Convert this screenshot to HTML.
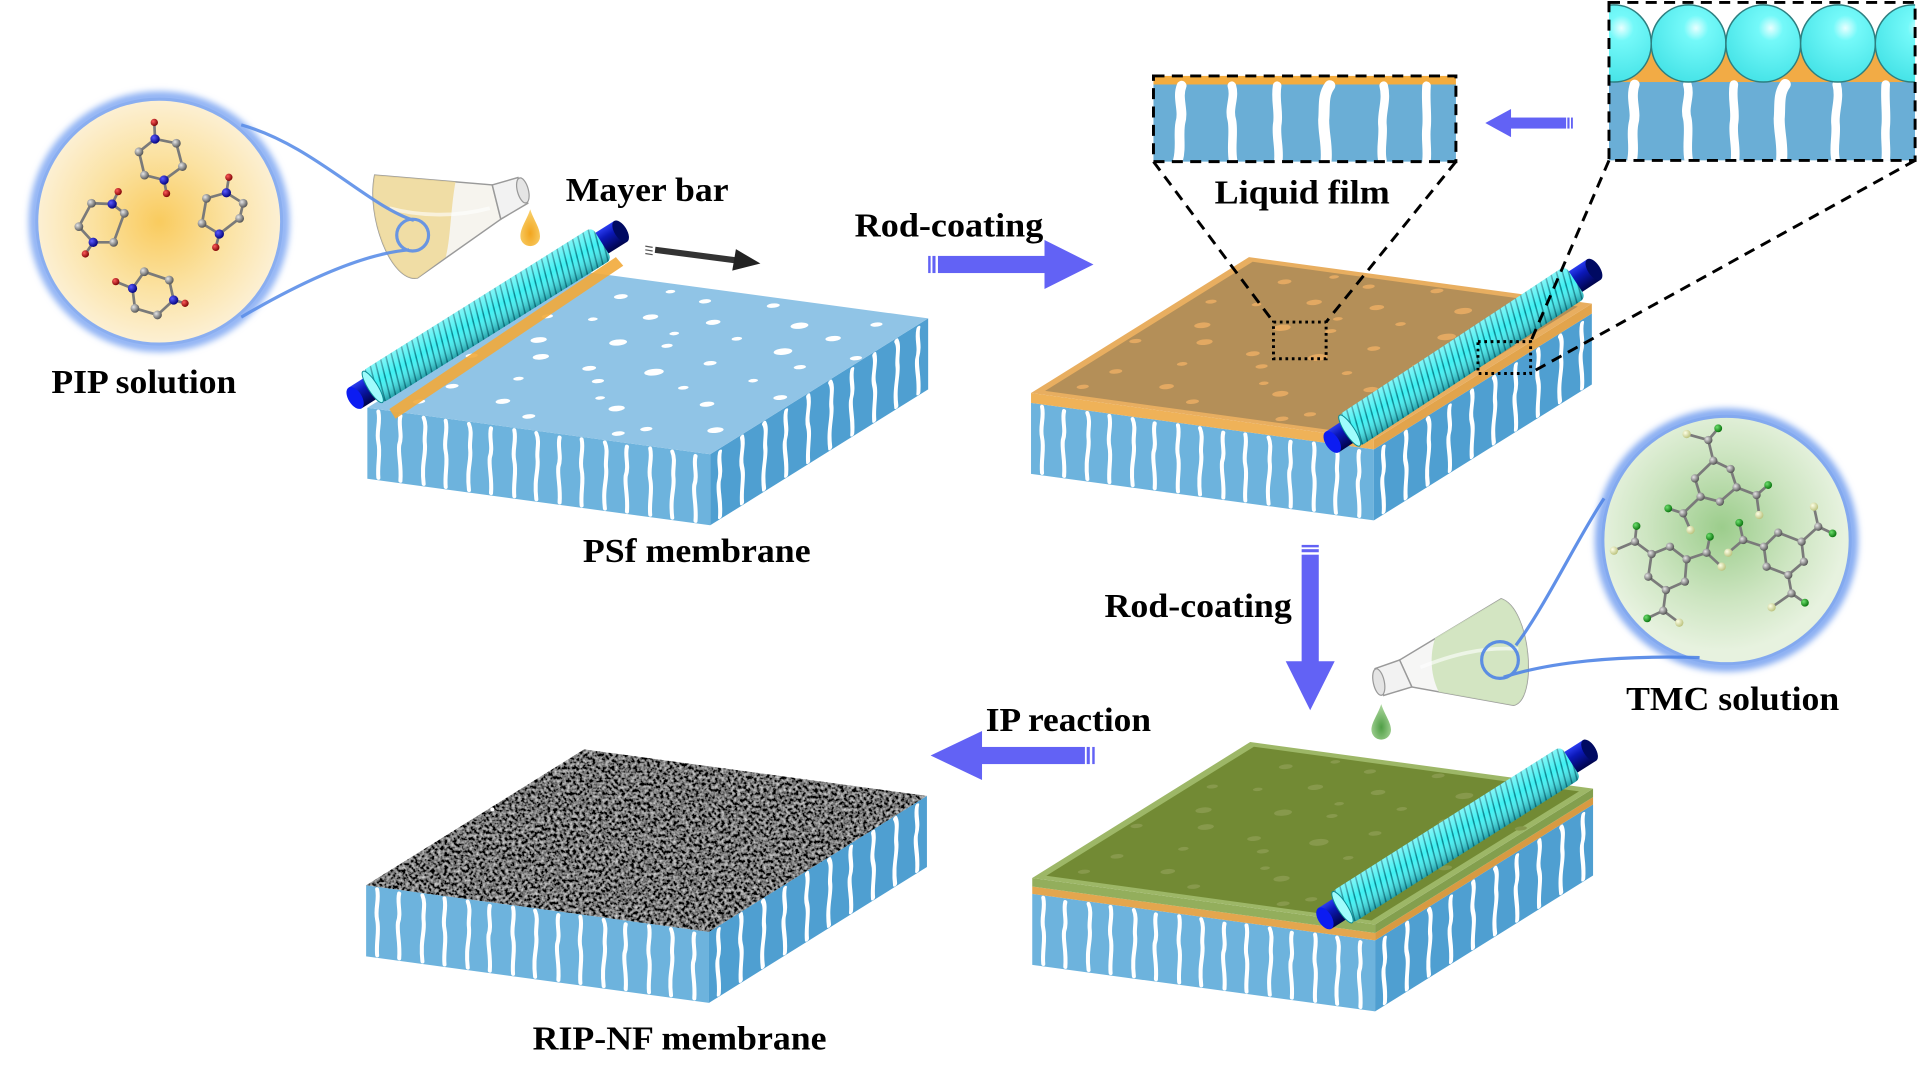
<!DOCTYPE html>
<html><head><meta charset="utf-8"><style>
html,body{margin:0;padding:0;background:#fff;}
svg{display:block;}
.t{font-family:"Liberation Serif","Times New Roman",serif;font-weight:bold;font-size:28px;fill:#000;}
.c{fill:url(#gC);}
.n{fill:url(#gN);}
.o{fill:url(#gO);}
.cl{fill:url(#gCl);}
.oy{fill:url(#gOy);}
.bd{stroke:#7a7a7a;stroke-width:2.2;fill:none;stroke-linejoin:round;}
.dash{stroke:#000;stroke-width:2.4;fill:none;stroke-dasharray:9 6;}
.dot{stroke:#000;stroke-width:2.4;fill:none;stroke-dasharray:2.2 3;}
</style></head><body>
<svg xmlns="http://www.w3.org/2000/svg" xmlns:xlink="http://www.w3.org/1999/xlink" width="1920" height="1080" viewBox="0 0 1568 882" preserveAspectRatio="none">
<defs>
<radialGradient id="pipG" cx="0.5" cy="0.5" r="0.5"><stop offset="0" stop-color="#f9cb5e"/><stop offset="0.55" stop-color="#fbe2a2"/><stop offset="1" stop-color="#fcf0d4"/></radialGradient>
<radialGradient id="tmcG" cx="0.48" cy="0.45" r="0.5"><stop offset="0" stop-color="#9ccd8c"/><stop offset="0.6" stop-color="#cde5c1"/><stop offset="1" stop-color="#e7f2df"/></radialGradient>
<radialGradient id="gC" cx="0.35" cy="0.35" r="0.7"><stop offset="0" stop-color="#e6e6e6"/><stop offset="1" stop-color="#4e4e4e"/></radialGradient>
<radialGradient id="gN" cx="0.35" cy="0.35" r="0.7"><stop offset="0" stop-color="#5a5aff"/><stop offset="1" stop-color="#00007a"/></radialGradient>
<radialGradient id="gO" cx="0.35" cy="0.35" r="0.7"><stop offset="0" stop-color="#ff5a5a"/><stop offset="1" stop-color="#7a0000"/></radialGradient>
<radialGradient id="gCl" cx="0.35" cy="0.35" r="0.7"><stop offset="0" stop-color="#6ee06e"/><stop offset="1" stop-color="#06700a"/></radialGradient>
<radialGradient id="gOy" cx="0.35" cy="0.35" r="0.7"><stop offset="0" stop-color="#fdffe6"/><stop offset="1" stop-color="#b9c07a"/></radialGradient>
<radialGradient id="cyanG" cx="0.6" cy="0.3" r="0.75"><stop offset="0" stop-color="#e8ffff"/><stop offset="0.22" stop-color="#74f9f9"/><stop offset="1" stop-color="#43e2e6"/></radialGradient>
<radialGradient id="dropO" cx="0.5" cy="0.65" r="0.6"><stop offset="0" stop-color="#f2a51e"/><stop offset="1" stop-color="#f8cf6a"/></radialGradient>
<radialGradient id="dropG" cx="0.5" cy="0.65" r="0.6"><stop offset="0" stop-color="#4f9e45"/><stop offset="1" stop-color="#a9d59a"/></radialGradient>
<linearGradient id="core" gradientUnits="userSpaceOnUse" x1="0" y1="-10" x2="0" y2="10"><stop offset="0" stop-color="#2a3cf0"/><stop offset="0.35" stop-color="#0b18b8"/><stop offset="1" stop-color="#00044a"/></linearGradient>
<linearGradient id="tubeShade" gradientUnits="userSpaceOnUse" x1="0" y1="-15.5" x2="0" y2="15.5"><stop offset="0" stop-color="#ffffff" stop-opacity="0.35"/><stop offset="0.45" stop-color="#ffffff" stop-opacity="0"/><stop offset="1" stop-color="#003848" stop-opacity="0.45"/></linearGradient>
<pattern id="coil" width="5" height="40" y="-20" patternUnits="userSpaceOnUse" patternTransform="skewX(-18)">
<rect width="5" height="40" fill="#3ff0f2"/><rect x="3.7" width="1.3" height="40" fill="#0a8a94"/>
</pattern>
<filter id="blur" x="-20%" y="-20%" width="140%" height="140%"><feGaussianBlur stdDeviation="2.5"/></filter>
<filter id="sem" x="0" y="0" width="1" height="1"><feTurbulence type="fractalNoise" baseFrequency="0.38" numOctaves="2" seed="7"/><feColorMatrix type="matrix" values="1.3 0 0 0 -0.47  1.3 0 0 0 -0.47  1.3 0 0 0 -0.47  0 0 0 0 1"/></filter>
<clipPath id="semclip"><polygon points="299,723 579,761 757,650 477,612"/></clipPath>
<clipPath id="box2clip"><rect x="1314" y="2" width="250" height="129"/></clipPath>

<path id="sa" d="M0,2 c2,9 -2,16 0,25 c2,9 -1,18 0,29"/>
<path id="sb" d="M0,3 c-2,8 2,15 -1,24 c-1,8 2,16 1,29"/>
<path id="sc" d="M0,2 c3,7 0,14 1,21 c1,9 -3,16 -1,33"/>
<g id="stF" stroke="#fff" stroke-width="3.3" fill="none" stroke-linecap="round">
<use xlink:href="#sa" x="9"/><use xlink:href="#sb" x="27"/><use xlink:href="#sc" x="46"/><use xlink:href="#sa" x="64"/><use xlink:href="#sc" x="83"/><use xlink:href="#sb" x="101"/><use xlink:href="#sa" x="120"/><use xlink:href="#sc" x="138"/><use xlink:href="#sb" x="157"/><use xlink:href="#sa" x="175"/><use xlink:href="#sc" x="194"/><use xlink:href="#sb" x="212"/><use xlink:href="#sa" x="231"/><use xlink:href="#sc" x="249"/><use xlink:href="#sb" x="268"/>
</g>
<g id="stR" stroke="#fff" stroke-width="3.3" fill="none" stroke-linecap="round">
<use xlink:href="#sb" x="8"/><use xlink:href="#sa" x="26"/><use xlink:href="#sc" x="44"/><use xlink:href="#sb" x="62"/><use xlink:href="#sa" x="80"/><use xlink:href="#sc" x="98"/><use xlink:href="#sb" x="116"/><use xlink:href="#sa" x="134"/><use xlink:href="#sc" x="152"/><use xlink:href="#sb" x="170"/>
</g>
<g id="blue">
<polygon points="0,0 280,38 280,96 0,58" fill="#6db3dd"/>
<polygon points="280,38 458,-73 458,-15 280,96" fill="#4f9fd1"/>
<use xlink:href="#stF" transform="matrix(1,0.1357,0,1,0,0)"/>
<use xlink:href="#stR" transform="matrix(1,-0.6236,0,1,280,38)"/>
</g>
<g id="dots">
<circle cx="12" cy="20" r="1.6"/><circle cx="22" cy="45" r="2"/><circle cx="8" cy="70" r="1.4"/><circle cx="30" cy="15" r="1.8"/><circle cx="35" cy="60" r="2.2"/><circle cx="45" cy="35" r="1.5"/><circle cx="50" cy="80" r="1.8"/><circle cx="60" cy="20" r="2"/><circle cx="65" cy="55" r="1.6"/><circle cx="72" cy="85" r="2.2"/><circle cx="80" cy="30" r="1.8"/><circle cx="88" cy="60" r="1.5"/><circle cx="92" cy="15" r="2"/><circle cx="18" cy="88" r="1.7"/><circle cx="40" cy="92" r="1.5"/><circle cx="55" cy="45" r="2.4"/><circle cx="75" cy="10" r="1.5"/><circle cx="25" cy="30" r="1.3"/><circle cx="48" cy="62" r="1.4"/><circle cx="85" cy="80" r="1.9"/><circle cx="15" cy="55" r="2"/><circle cx="68" cy="38" r="1.3"/><circle cx="33" cy="78" r="1.9"/><circle cx="58" cy="95" r="1.6"/><circle cx="95" cy="40" r="1.7"/><circle cx="5" cy="40" r="1.5"/><circle cx="42" cy="8" r="1.6"/><circle cx="78" cy="68" r="2.3"/><circle cx="62" cy="72" r="1.3"/><circle cx="28" cy="95" r="1.2"/><circle cx="90" cy="92" r="1.5"/><circle cx="52" cy="25" r="1.2"/><circle cx="38" cy="42" r="1.7"/><circle cx="82" cy="48" r="1.2"/><circle cx="70" cy="5" r="1.6"/><circle cx="10" cy="8" r="1.5"/><circle cx="20" cy="72" r="1.2"/><circle cx="98" cy="70" r="1.5"/><circle cx="45" cy="70" r="1.2"/>
</g>
<g id="rod">
<rect x="0" y="-10" width="256" height="20" fill="url(#core)"/>
<ellipse cx="256" cy="0" rx="5" ry="10" fill="#000a62"/>
<rect x="16" y="-15.5" width="222" height="31" rx="5" fill="url(#coil)"/>
<rect x="16" y="-15.5" width="222" height="31" rx="5" fill="url(#tubeShade)"/>
<ellipse cx="17" cy="0" rx="4" ry="15" fill="#9ffcfc" stroke="#0a8a94" stroke-width="0.8"/>
<ellipse cx="0" cy="0" rx="5.5" ry="10" fill="#0c1cf2"/>
</g>
</defs>

<!-- PIP circle -->
<circle cx="130" cy="181" r="102" fill="none" stroke="#8fb2f4" stroke-width="9" filter="url(#blur)"/>
<circle cx="130" cy="181" r="100" fill="url(#pipG)" stroke="#8aaef0" stroke-width="2.5"/>
<g>
<polygon class="bd" points="126.6,113.5 144,117 149,136 134,147 118,143 113.5,124"/>
<line class="bd" x1="126.6" y1="113.5" x2="126" y2="100"/><line class="bd" x1="134" y1="147" x2="136" y2="158"/>
<polygon class="bd" points="74.7,166 91.6,166.6 101.5,174.2 92.8,197.9 76.1,197.9 64.4,185.1"/>
<line class="bd" x1="91.6" y1="166.6" x2="96.5" y2="156.5"/><line class="bd" x1="76.1" y1="197.9" x2="69.7" y2="207.4"/>
<polygon class="bd" points="168.6,162 184.9,157.4 198.6,166 195.7,178.3 179.1,191.1 165,182.4"/>
<line class="bd" x1="184.9" y1="157.4" x2="186.9" y2="144.8"/><line class="bd" x1="179.1" y1="191.1" x2="176.2" y2="202"/>
<polygon class="bd" points="108.2,235.5 117.8,221.9 138.2,228.7 141.8,245 128.6,257.2 110.2,251.8"/>
<line class="bd" x1="108.2" y1="235.5" x2="94.5" y2="230"/><line class="bd" x1="141.8" y1="245" x2="151.1" y2="247.7"/>
<circle class="c" cx="144" cy="117" r="3.6"/><circle class="c" cx="149" cy="136" r="3.6"/><circle class="c" cx="118" cy="143" r="3.6"/><circle class="c" cx="113.5" cy="124" r="3.6"/>
<circle class="n" cx="126.6" cy="113.5" r="3.8"/><circle class="n" cx="134" cy="147" r="3.8"/><circle class="o" cx="126" cy="100" r="3"/><circle class="o" cx="136" cy="158" r="3"/>
<circle class="c" cx="74.7" cy="166" r="3.6"/><circle class="c" cx="101.5" cy="174.2" r="3.6"/><circle class="c" cx="92.8" cy="197.9" r="3.6"/><circle class="c" cx="64.4" cy="185.1" r="3.6"/>
<circle class="n" cx="91.6" cy="166.6" r="3.8"/><circle class="n" cx="76.1" cy="197.9" r="3.8"/><circle class="o" cx="96.5" cy="156.5" r="3"/><circle class="o" cx="69.7" cy="207.4" r="3"/>
<circle class="c" cx="168.6" cy="162" r="3.6"/><circle class="c" cx="198.6" cy="166" r="3.6"/><circle class="c" cx="195.7" cy="178.3" r="3.6"/><circle class="c" cx="165" cy="182.4" r="3.6"/>
<circle class="n" cx="184.9" cy="157.4" r="3.8"/><circle class="n" cx="179.1" cy="191.1" r="3.8"/><circle class="o" cx="186.9" cy="144.8" r="3"/><circle class="o" cx="176.2" cy="202" r="3"/>
<circle class="c" cx="117.8" cy="221.9" r="3.6"/><circle class="c" cx="138.2" cy="228.7" r="3.6"/><circle class="c" cx="128.6" cy="257.2" r="3.6"/><circle class="c" cx="110.2" cy="251.8" r="3.6"/>
<circle class="n" cx="108.2" cy="235.5" r="3.8"/><circle class="n" cx="141.8" cy="245" r="3.8"/><circle class="o" cx="94.5" cy="230" r="3"/><circle class="o" cx="151.1" cy="247.7" r="3"/>
</g>

<!-- Flask 1 -->
<path d="M306,143 L402,151 L409,179 L341,227 C320,231 299,178 306,143 Z" fill="#f3f0e8" fill-opacity="0.75" stroke="#9a9a9a" stroke-width="1.2"/>
<path d="M306,143 L372,148.5 C368,170 368,195 364,210 L341,227 C320,231 299,178 306,143 Z" fill="#efd898" fill-opacity="0.85"/>
<path d="M318,170 C340,176 370,178 400,170" stroke="#fff" stroke-width="3" fill="none" opacity="0.6"/>
<path d="M402,151 L423,145 L431,166 L409,179 Z" fill="#f2f2f2" stroke="#9a9a9a" stroke-width="1.2"/>
<ellipse cx="427" cy="155.5" rx="4.5" ry="10.5" transform="rotate(-15 427 155.5)" fill="#e4e4e4" stroke="#999" stroke-width="1"/>
<path d="M433,171 C436,180 441,186 441,193 A8,8 0 0 1 425,193 C425,186 430,180 433,171 Z" fill="url(#dropO)"/>

<!-- PIP connectors -->
<g stroke="#5b8ee8" stroke-width="2.6" fill="none" opacity="0.9">
<path d="M197,102 C255,118 300,168 338,180"/>
<path d="M197,259 C255,225 300,207 334,204"/>
<circle cx="337" cy="192" r="13"/>
</g>

<!-- Slab 1 (PSf) -->
<g transform="translate(300,333)">
<use xlink:href="#blue"/>
<polygon points="0,0 280,38 458,-73 178,-111" fill="#90c4e6"/>
<use xlink:href="#dots" fill="#fff" transform="matrix(2.8,0.38,1.78,-1.11,0,0)"/>
</g>
<polygon points="318,334 503,210 509,217 323,342" fill="#f2aa3a" opacity="0.9"/>
<use xlink:href="#rod" transform="translate(290,325) rotate(-32.1)"/>

<!-- Black motion arrow -->
<polygon points="535.3,201.5 600.3,210 599.7,215 534.7,206.5" fill="#333"/>
<polygon points="601,203.5 621,215.2 598,221" fill="#222"/>
<g stroke="#555" stroke-width="1"><line x1="527" y1="201" x2="533" y2="202"/><line x1="527" y1="204" x2="533" y2="205"/><line x1="527" y1="207" x2="533" y2="208"/></g>

<!-- Slab 2 (liquid film) -->
<use xlink:href="#blue" transform="translate(842,329)"/>
<g transform="translate(842,321)">
<polygon points="0,0 280,38 280,46 0,8" fill="#efb258"/>
<polygon points="280,38 458,-73 458,-65 280,46" fill="#e2a44c"/>
<polygon points="0,0 280,38 458,-73 178,-111" fill="#e8ae60"/>
<polygon points="11.5,-1.8 277,34.7 446.5,-70.7 181,-107.2" fill="#b48f58"/>
<use xlink:href="#dots" fill="#e3a962" transform="matrix(2.8,0.38,1.78,-1.11,0,0)"/>
</g>
<use xlink:href="#rod" transform="translate(1088,361) rotate(-33.4)"/>

<!-- Slab 3 (green) -->
<use xlink:href="#blue" transform="translate(843,730)"/>
<g transform="translate(843,717)">
<polygon points="0,7 280,45 280,51 0,13" fill="#e4a64e"/>
<polygon points="280,45 458,-66 458,-60 280,51" fill="#d89a42"/>
<polygon points="0,0 280,38 280,45 0,7" fill="#93ae5c"/>
<polygon points="280,38 458,-73 458,-66 280,45" fill="#839f4e"/>
<polygon points="0,0 280,38 458,-73 178,-111" fill="#9db767"/>
<polygon points="11.5,-1.8 277,34.7 446.5,-70.7 181,-107.2" fill="#728a34"/>
<use xlink:href="#dots" fill="#87994c" transform="matrix(2.8,0.38,1.78,-1.11,0,0)"/>
</g>
<use xlink:href="#rod" transform="translate(1082,750) rotate(-32.4)"/>

<!-- Slab 4 (RIP-NF) -->
<use xlink:href="#blue" transform="translate(299,723)"/>
<g clip-path="url(#semclip)"><rect x="299" y="611" width="459" height="151" fill="#666" filter="url(#sem)"/></g>
<circle cx="402" cy="661" r="1.6" fill="#fff"/>

<!-- Liquid film box -->
<rect x="942" y="62" width="247" height="8" fill="#f4ac3e"/>
<rect x="942" y="69" width="247" height="63" fill="#6aaed6"/>
<g stroke="#fff" fill="none" stroke-linecap="round">
<path d="M965,70 c-4,10 2,20 -1,30 c-2,10 1,20 -2,31" stroke-width="8"/>
<path d="M1006,70 c3,10 -3,18 0,28 c2,10 -1,22 1,33" stroke-width="7"/>
<path d="M1043,70 c-2,12 2,22 0,32 c-1,10 2,18 1,29" stroke-width="7"/>
<path d="M1086,70 c-6,8 -4,18 -5,28 c0,12 3,20 2,33" stroke-width="9"/>
<path d="M1130,70 c3,12 -2,22 -1,32 c1,10 -2,20 0,29" stroke-width="7"/>
<path d="M1165,70 c-1,12 1,24 0,34 c-1,10 1,18 0,27" stroke-width="7"/>
</g>
<rect x="942" y="62" width="247" height="70" class="dash"/>

<!-- Big box top right -->
<g clip-path="url(#box2clip)">
<rect x="1314" y="40" width="250" height="29" fill="#f2ab45"/>
<rect x="1314" y="67" width="250" height="64" fill="#6aaed6"/>
<g stroke="#fff" fill="none" stroke-linecap="round">
<path d="M1335,69 c-4,12 2,22 -1,32 c-2,10 1,18 -1,29" stroke-width="8"/>
<path d="M1378,69 c3,10 -3,18 0,28 c2,10 -1,22 1,33" stroke-width="7"/>
<path d="M1416,69 c-2,12 2,22 0,32 c-1,10 2,18 1,29" stroke-width="7"/>
<path d="M1458,69 c-6,8 -4,18 -5,28 c0,12 3,20 2,33" stroke-width="9"/>
<path d="M1500,69 c3,12 -2,22 -1,32 c1,10 -2,20 0,29" stroke-width="7"/>
<path d="M1540,69 c-1,12 1,24 0,34 c-1,10 1,18 0,27" stroke-width="7"/>
</g>
<g fill="url(#cyanG)" stroke="#2d7f80" stroke-width="1.2">
<ellipse cx="1318" cy="35.5" rx="30.5" ry="31.5"/>
<ellipse cx="1379" cy="35.5" rx="30.5" ry="31.5"/>
<ellipse cx="1440" cy="35.5" rx="30.5" ry="31.5"/>
<ellipse cx="1501" cy="35.5" rx="30.5" ry="31.5"/>
<ellipse cx="1562" cy="35.5" rx="30.5" ry="31.5"/>
</g>
</g>
<rect x="1314" y="2" width="250" height="129" class="dash"/>

<!-- Dashed connectors -->
<line x1="942" y1="132" x2="1040" y2="263" class="dash"/>
<line x1="1189" y1="132" x2="1083" y2="263" class="dash"/>
<line x1="1314" y1="131" x2="1250" y2="279" class="dash"/>
<line x1="1564" y1="131" x2="1251" y2="304" class="dash"/>
<rect x="1040" y="263" width="43" height="30" class="dot"/>
<rect x="1207" y="279" width="43" height="26" class="dot"/>

<!-- Blue arrows -->
<g fill="#6262f5">
<rect x="758" y="209" width="2" height="14"/><rect x="761.5" y="209" width="2.5" height="14"/><rect x="766" y="209" width="90" height="14"/>
<polygon points="853,196 893,216 853,236"/>
<rect x="1063" y="445" width="14" height="2"/><rect x="1063" y="448.5" width="14" height="2.5"/><rect x="1063" y="453" width="14" height="89"/>
<polygon points="1050,540 1090,540 1070,580"/>
<rect x="892" y="610" width="2" height="14"/><rect x="887.5" y="610" width="2.5" height="14"/><rect x="800" y="610" width="86" height="14"/>
<polygon points="802,597 760,617 802,637"/>
<rect x="1283" y="96" width="1.5" height="9"/><rect x="1280" y="96" width="1.8" height="9"/><rect x="1232" y="96" width="47" height="9"/>
<polygon points="1234,89 1213,100.5 1234,112"/>
</g>

<!-- TMC circle -->
<circle cx="1410" cy="441" r="103" fill="none" stroke="#86acf2" stroke-width="9" filter="url(#blur)"/>
<circle cx="1410" cy="441" r="101" fill="url(#tmcG)" stroke="#83a9ef" stroke-width="2.5"/>
<g>
<polygon class="bd" points="1399.2,376.2 1413.3,383 1418.2,398 1404.6,409.7 1388.8,405.6 1384.2,390.7"/>
<polyline class="bd" points="1399.2,376.2 1395.1,359.4 1403.2,349.8"/><line class="bd" x1="1395.1" y1="359.4" x2="1377.4" y2="354.5"/>
<polyline class="bd" points="1418.2,398 1434.5,404.3 1444,396.1"/><line class="bd" x1="1434.5" y1="404.3" x2="1436.7" y2="420.6"/>
<polyline class="bd" points="1388.8,405.6 1374.6,419.2 1362.4,415.2"/><line class="bd" x1="1374.6" y1="419.2" x2="1380.6" y2="432.9"/>
<polygon class="bd" points="1363.8,446.5 1377.4,456.8 1376,475 1360.5,481.9 1346.1,471 1348.8,452.5"/>
<polyline class="bd" points="1348.8,452.5 1335.2,442.4 1336.5,429.6"/><line class="bd" x1="1335.2" y1="442.4" x2="1318" y2="449.7"/>
<polyline class="bd" points="1377.4,456.8 1393.7,451.4 1396.4,438.3"/><line class="bd" x1="1393.7" y1="451.4" x2="1406" y2="462.8"/>
<polyline class="bd" points="1360.5,481.9 1358.3,498.7 1345.2,505"/><line class="bd" x1="1358.3" y1="498.7" x2="1371.4" y2="508.5"/>
<polygon class="bd" points="1440.5,446.5 1452.2,435 1471.3,442.4 1473.2,458.7 1460.4,469.6 1442.7,462.8"/>
<polyline class="bd" points="1440.5,446.5 1423.6,441 1420.4,426.9"/><line class="bd" x1="1423.6" y1="441" x2="1411.4" y2="451.4"/>
<polyline class="bd" points="1471.3,442.4 1484.9,430.1 1496.6,435.6"/><line class="bd" x1="1484.9" y1="430.1" x2="1481.4" y2="413.8"/>
<polyline class="bd" points="1460.4,469.6 1463.1,484.6 1474,492.2"/><line class="bd" x1="1463.1" y1="484.6" x2="1446.8" y2="496"/>
<g class="c">
<circle cx="1399.2" cy="376.2" r="3.4"/><circle cx="1413.3" cy="383" r="3.4"/><circle cx="1418.2" cy="398" r="3.4"/><circle cx="1404.6" cy="409.7" r="3.4"/><circle cx="1388.8" cy="405.6" r="3.4"/><circle cx="1384.2" cy="390.7" r="3.4"/>
<circle cx="1395.1" cy="359.4" r="3.4"/><circle cx="1434.5" cy="404.3" r="3.4"/><circle cx="1374.6" cy="419.2" r="3.4"/>
<circle cx="1363.8" cy="446.5" r="3.4"/><circle cx="1377.4" cy="456.8" r="3.4"/><circle cx="1376" cy="475" r="3.4"/><circle cx="1360.5" cy="481.9" r="3.4"/><circle cx="1346.1" cy="471" r="3.4"/><circle cx="1348.8" cy="452.5" r="3.4"/>
<circle cx="1335.2" cy="442.4" r="3.4"/><circle cx="1393.7" cy="451.4" r="3.4"/><circle cx="1358.3" cy="498.7" r="3.4"/>
<circle cx="1440.5" cy="446.5" r="3.4"/><circle cx="1452.2" cy="435" r="3.4"/><circle cx="1471.3" cy="442.4" r="3.4"/><circle cx="1473.2" cy="458.7" r="3.4"/><circle cx="1460.4" cy="469.6" r="3.4"/><circle cx="1442.7" cy="462.8" r="3.4"/>
<circle cx="1423.6" cy="441" r="3.4"/><circle cx="1484.9" cy="430.1" r="3.4"/><circle cx="1463.1" cy="484.6" r="3.4"/>
</g>
<g class="cl">
<circle cx="1403.2" cy="349.8" r="3.2"/><circle cx="1444" cy="396.1" r="3.2"/><circle cx="1362.4" cy="415.2" r="3.2"/>
<circle cx="1336.5" cy="429.6" r="3.2"/><circle cx="1396.4" cy="438.3" r="3.2"/><circle cx="1345.2" cy="505" r="3.2"/>
<circle cx="1420.4" cy="426.9" r="3.2"/><circle cx="1496.6" cy="435.6" r="3.2"/><circle cx="1474" cy="492.2" r="3.2"/>
</g>
<g class="oy">
<circle cx="1377.4" cy="354.5" r="3.4"/><circle cx="1436.7" cy="420.6" r="3.4"/><circle cx="1380.6" cy="432.9" r="3.4"/>
<circle cx="1318" cy="449.7" r="3.4"/><circle cx="1406" cy="462.8" r="3.4"/><circle cx="1371.4" cy="508.5" r="3.4"/>
<circle cx="1411.4" cy="451.4" r="3.4"/><circle cx="1481.4" cy="413.8" r="3.4"/><circle cx="1446.8" cy="496" r="3.4"/>
</g>
</g>

<!-- Flask 2 -->
<path d="M1226,489 L1143,539 L1153,561 L1236,576 C1256,572 1250,497 1226,489 Z" fill="#f3f3f1" fill-opacity="0.75" stroke="#9a9a9a" stroke-width="1.2"/>
<path d="M1226,489 L1172,521 C1167,537 1169,553 1175,565 L1236,576 C1256,572 1250,497 1226,489 Z" fill="#cfe3bd" fill-opacity="0.9"/>
<path d="M1160,545 C1185,535 1210,528 1240,530" stroke="#fff" stroke-width="3" fill="none" opacity="0.6"/>
<path d="M1143,539 L1123,546 L1130,568 L1153,561 Z" fill="#f2f2f2" stroke="#9a9a9a" stroke-width="1.2"/>
<ellipse cx="1126" cy="557" rx="4.5" ry="11" transform="rotate(-12 1126 557)" fill="#e4e4e4" stroke="#999" stroke-width="1"/>
<path d="M1128,575 C1131,584 1136,590 1136,596 A8,8 0 0 1 1120,596 C1120,590 1125,584 1128,575 Z" fill="url(#dropG)"/>
<g stroke="#4f84e6" stroke-width="2.6" fill="none" opacity="0.9">
<path d="M1310,407 C1288,440 1262,495 1238,527"/>
<path d="M1388,537 C1320,535 1265,541 1228,553"/>
<circle cx="1225" cy="539" r="15"/>
</g>

<!-- Labels -->
<text class="t" x="42" y="321" textLength="151" lengthAdjust="spacingAndGlyphs">PIP solution</text>
<text class="t" x="462" y="164" textLength="133" lengthAdjust="spacingAndGlyphs">Mayer bar</text>
<text class="t" x="698" y="193" textLength="154" lengthAdjust="spacingAndGlyphs">Rod-coating</text>
<text class="t" x="992" y="166" textLength="143" lengthAdjust="spacingAndGlyphs">Liquid film</text>
<text class="t" x="476" y="459" textLength="186" lengthAdjust="spacingAndGlyphs">PSf membrane</text>
<text class="t" x="902" y="504" textLength="153" lengthAdjust="spacingAndGlyphs">Rod-coating</text>
<text class="t" x="1328" y="580" textLength="174" lengthAdjust="spacingAndGlyphs">TMC solution</text>
<text class="t" x="805" y="597" textLength="135" lengthAdjust="spacingAndGlyphs">IP reaction</text>
<text class="t" x="435" y="857" textLength="240" lengthAdjust="spacingAndGlyphs">RIP-NF membrane</text>
</svg>
</body></html>
